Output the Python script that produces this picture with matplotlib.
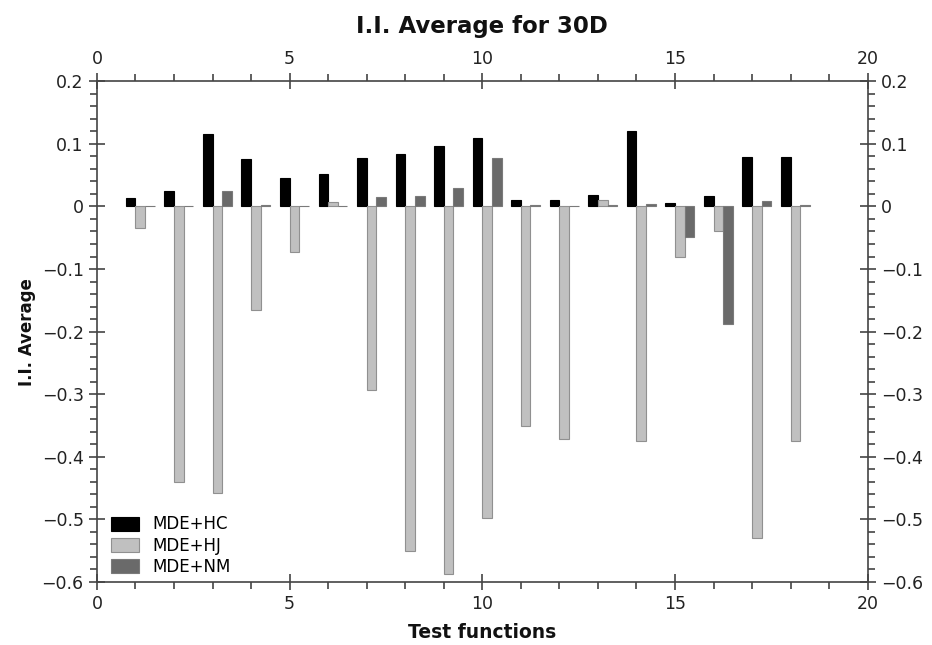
import matplotlib
matplotlib.use("Agg")
import matplotlib.pyplot as plt
import numpy as np
from matplotlib.ticker import MultipleLocator, FuncFormatter

functions = list(range(1, 19))
mde_hc = [0.014, 0.024, 0.115, 0.076, 0.045, 0.052, 0.078, 0.083, 0.097, 0.109,
          0.011, 0.011, 0.018, 0.120, 0.005, 0.016, 0.079, 0.079]
mde_hj = [-0.035, -0.440, -0.458, -0.165, -0.072, 0.007, -0.294, -0.551, -0.587, -0.497,
          -0.350, -0.372, 0.011, -0.375, -0.080, -0.039, -0.530, -0.374]
mde_nm = [0.0, 0.0, 0.025, 0.002, 0.0, 0.0, 0.015, 0.017, 0.029, 0.077,
          0.003, 0.0, 0.003, 0.004, -0.049, -0.188, 0.008, 0.003]
series_names = ["MDE+HC", "MDE+HJ", "MDE+NM"]

fig = plt.figure(figsize=(9.32, 6.45), dpi=100)
ax = fig.add_axes([0.104, 0.0977, 0.827, 0.7763])

x = np.array(functions, dtype=float)
w = 0.25
ax.bar(x - w, mde_hc, width=w, align='edge', color='black', edgecolor='black', linewidth=0.8, label=series_names[0])
ax.bar(x, mde_hj, width=w, align='edge', color='#c0c0c0', edgecolor='#909090', linewidth=0.8, label=series_names[1])
ax.bar(x + w, mde_nm, width=w, align='edge', color='#6a6a6a', edgecolor='#7a7a7a', linewidth=0.8, label=series_names[2])

ax.set_xlim(0, 20)
ax.set_ylim(-0.6, 0.2)
ax.xaxis.set_major_locator(MultipleLocator(5))
ax.xaxis.set_minor_locator(MultipleLocator(1))
ax.yaxis.set_major_locator(MultipleLocator(0.1))
ax.yaxis.set_minor_locator(MultipleLocator(0.02))

def fmt(v, pos):
    v = round(v, 3)
    if abs(v) < 1e-9:
        return "0"
    return ("%g" % v).replace("-", "\u2212")

ax.yaxis.set_major_formatter(FuncFormatter(fmt))

ax.tick_params(which='both', top=True, right=True, labeltop=True, labelright=True,
               labelsize=12.5, color='#444444', labelcolor='#222222')
ax.tick_params(which='major', direction='inout', length=12, width=1.2)
ax.tick_params(which='minor', direction='out', length=5, width=1.2)
for s in ax.spines.values():
    s.set_color('#444444')
    s.set_linewidth(1.2)

ax.set_title("I.I. Average for 30D", fontsize=16.5, fontweight='bold', pad=35, color='#111111')
ax.set_xlabel("Test functions", fontsize=13.5, fontweight='bold', labelpad=7, color='#111111')
ax.set_ylabel("I.I. Average", fontsize=12, fontweight='bold', labelpad=4, color='#111111')

ax.legend(loc='lower left', frameon=False, fontsize=12, handlelength=1.7,
          handleheight=0.9, labelspacing=0.2, borderaxespad=0.1,
          borderpad=0.4, handletextpad=0.8, bbox_to_anchor=(0.007, -0.005))

fig.savefig("out.png", dpi=100)
